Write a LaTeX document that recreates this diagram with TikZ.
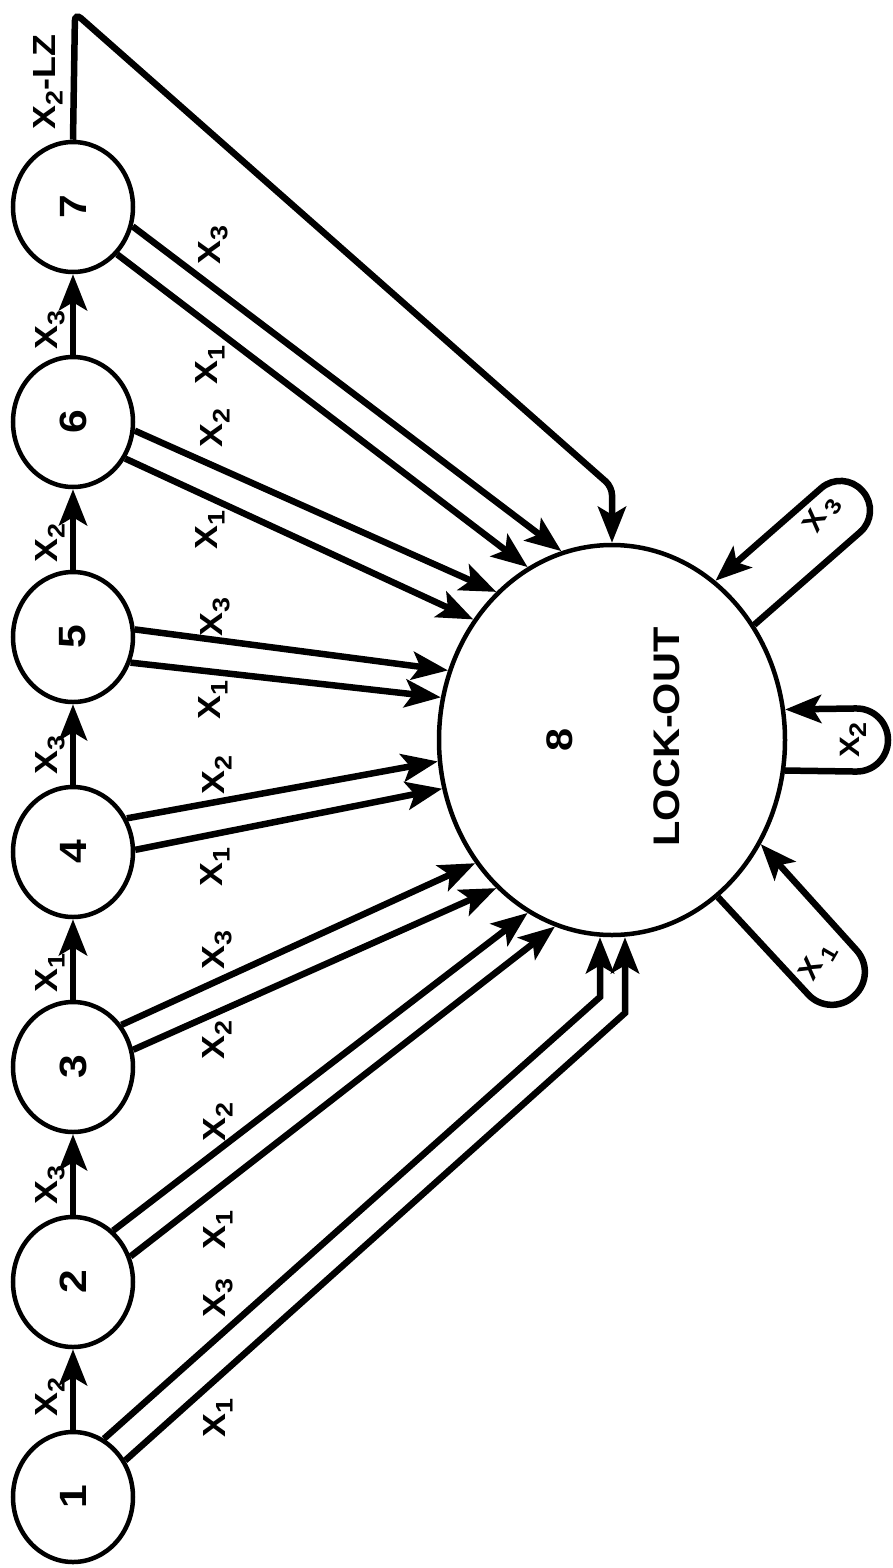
\documentclass[tikz,border=0pt]{standalone}
\usepackage{fontspec}
\setmainfont{Liberation Sans}
\usetikzlibrary{arrows.meta,shapes.geometric,calc}
\newcommand\st[1]{\scalebox{1.12}[1]{#1}}
\newcommand\xl[1]{X\kern-0.5pt\raisebox{-7pt}{\fontsize{24}{24}\selectfont #1}}
\newcommand\xw[1]{X\kern4pt\raisebox{-7pt}{\fontsize{22}{22}\selectfont #1}}
\newcommand\rt[1]{\rotatebox{90}{\st{#1}}}
\begin{document}
\begin{tikzpicture}[x=1pt,y=-1pt,
  smallst/.style={draw, line width=4.5pt, ellipse, inner sep=0pt, minimum width=120pt, minimum height=130pt, font=\fontsize{38}{38}\selectfont\bfseries},
  bigst/.style={draw, line width=4.5pt, ellipse, inner sep=0pt, minimum width=346pt, minimum height=390pt},
  edge/.style={line width=6.5pt, -{Stealth[length=36pt,width=28pt,inset=8pt]}},
  lab/.style={inner sep=0pt, font=\fontsize{32}{32}\selectfont\bfseries},
  looplab/.style={inner sep=0pt, font=\fontsize{28}{28}\selectfont\bfseries},
  bigtxt/.style={inner sep=0pt, font=\fontsize{37}{37}\selectfont\bfseries},
]
\useasboundingbox[fill=white] (0,0) rectangle (893,1568);

% states
\node[smallst] (n1) at (73,1497) {\rt{1}};
\node[smallst] (n2) at (73,1282) {\rt{2}};
\node[smallst] (n3) at (73,1067) {\rt{3}};
\node[smallst] (n4) at (73,852) {\rt{4}};
\node[smallst] (n5) at (73,637) {\rt{5}};
\node[smallst] (n6) at (73,422) {\rt{6}};
\node[smallst] (n7) at (73,207) {\rt{7}};
\node[bigst] (n8) at (612,740) {};
\node[bigtxt] (t8) at (560,740) {\rt{8}};
\node[bigtxt] (tlo) at (667,737) {\rt{LOCK-OUT}};

% chain
\draw[edge] (n1.north) -- (n2.south);
\draw[edge] (n2.north) -- (n3.south);
\draw[edge] (n3.north) -- (n4.south);
\draw[edge] (n4.north) -- (n5.south);
\draw[edge] (n5.north) -- (n6.south);
\draw[edge] (n6.north) -- (n7.south);

% chain labels
\node[lab] (c12) at (50,1397) {\rt{\xl{2}}};
\node[lab] (c23) at (50,1185) {\rt{\xl{3}}};
\node[lab] (c34) at (50,973) {\rt{\xl{1}}};
\node[lab] (c45) at (50,755) {\rt{\xl{3}}};
\node[lab] (c56) at (50,543) {\rt{\xl{2}}};
\node[lab] (c67) at (50,330) {\rt{\xl{3}}};
\node[lab] (clz) at (48,82) {\rt{\xl{2}-LZ}};

% edge from 7 top
\coordinate (tc) at (75,13);
\coordinate (tb) at (612,487);
\draw[edge, rounded corners=8pt] (n7.north) -- (tc) -- (tb) -- (n8.north);

% edges to lock-out
\draw[edge] (n7.-18) -- (n8.105);
\draw[edge] (n7.-47) -- (n8.116);
\draw[edge] (n6.-8) -- (n8.128);
\draw[edge] (n6.-35) -- (n8.139);
\draw[edge] (n5.7) -- (n8.157);
\draw[edge] (n5.-24) -- (n8.166);
\draw[edge] (n4.32) -- (n8.187);
\draw[edge] (n4.2) -- (n8.196);
\draw[edge] (n3.41) -- (n8.222);
\draw[edge] (n3.16) -- (n8.232);
\draw[edge] (n2.52) -- (n8.244);
\draw[edge] (n2.24) -- (n8.253);
\coordinate (b1) at (600,997);
\coordinate (b2) at (625,1013);
\draw[edge] (n1.62) -- (b1) -- (b1 |- n8.south);
\draw[edge] (n1.35) -- (b2) -- (b2 |- n8.south);

% edge labels
\node[lab] (e7a) at (213,245) {\rt{\xl{3}}};
\node[lab] (e7b) at (210,365) {\rt{\xl{1}}};
\node[lab] (e6a) at (215,428) {\rt{\xl{2}}};
\node[lab] (e6b) at (210,530) {\rt{\xl{1}}};
\node[lab] (e5a) at (215,617) {\rt{\xl{3}}};
\node[lab] (e5b) at (213,700) {\rt{\xl{1}}};
\node[lab] (e4a) at (217,775) {\rt{\xl{2}}};
\node[lab] (e4b) at (215,867) {\rt{\xl{1}}};
\node[lab] (e3a) at (217,950) {\rt{\xl{3}}};
\node[lab] (e3b) at (217,1040) {\rt{\xl{2}}};
\node[lab] (e2a) at (218,1122) {\rt{\xl{2}}};
\node[lab] (e2b) at (218,1230) {\rt{\xl{1}}};
\node[lab] (e1a) at (218,1298) {\rt{\xl{3}}};
\node[lab] (e1b) at (218,1418) {\rt{\xl{1}}};

% self loops
\coordinate (l3a) at (882,513);
\coordinate (l3b) at (843,469);
\draw[edge, rounded corners=29pt] (n8.39.3) -- (l3a) -- (l3b) -- (n8.57.2);
\coordinate (l2a) at (888,772);
\coordinate (l2b) at (888,708);
\draw[edge, rounded corners=32pt] (n8.-10.5) -- (l2a) -- (l2b) -- (n8.10.5);
\coordinate (l1a) at (830,1018);
\coordinate (l1b) at (878,974);
\draw[edge, rounded corners=32pt] (n8.-56) -- (l1a) -- (l1b) -- (n8.-35.8);

\node[looplab] (s3) at (822,515) {\rotatebox{60}{\st{\xw{3}}}};
\node[looplab] (s2) at (853,740) {\rt{\xl{2}}};
\node[looplab] (s1) at (818,962) {\rotatebox{60}{\st{\xw{1}}}};
\end{tikzpicture}
\end{document}
